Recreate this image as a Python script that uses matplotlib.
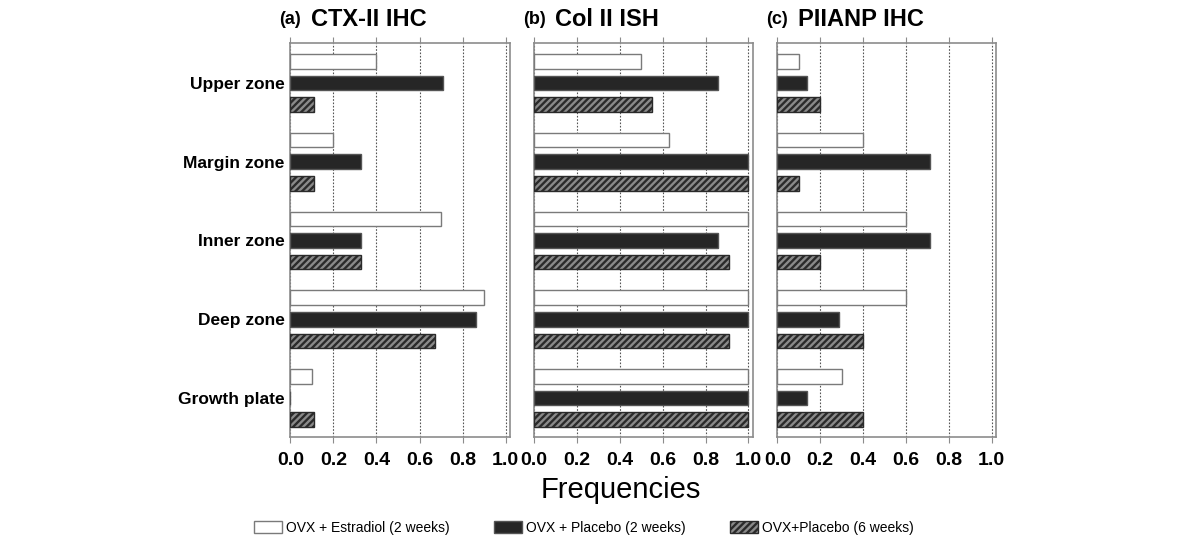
import matplotlib
matplotlib.use("Agg")
import matplotlib.pyplot as plt
import numpy as np
from matplotlib.patches import Patch

zones = ["Upper zone", "Margin zone", "Inner zone", "Deep zone", "Growth plate"]
series_names = ["OVX + Estradiol (2 weeks)", "OVX + Placebo (2 weeks)", "OVX+Placebo (6 weeks)"]

panel_tags = ["(a)", "(b)", "(c)"]
panel_titles = ["CTX-II IHC", "Col II ISH", "PIIANP IHC"]

ctx_estradiol = [0.40, 0.20, 0.70, 0.90, 0.10]
ctx_placebo2 = [0.71, 0.33, 0.33, 0.86, 0.0]
ctx_placebo6 = [0.11, 0.11, 0.33, 0.67, 0.11]

col_estradiol = [0.50, 0.63, 1.0, 1.0, 1.0]
col_placebo2 = [0.86, 1.0, 0.86, 1.0, 1.0]
col_placebo6 = [0.55, 1.0, 0.91, 0.91, 1.0]

piianp_estradiol = [0.10, 0.40, 0.60, 0.60, 0.30]
piianp_placebo2 = [0.14, 0.71, 0.71, 0.29, 0.14]
piianp_placebo6 = [0.20, 0.10, 0.20, 0.40, 0.40]

panels = [
    [ctx_estradiol, ctx_placebo2, ctx_placebo6],
    [col_estradiol, col_placebo2, col_placebo6],
    [piianp_estradiol, piianp_placebo2, piianp_placebo6],
]

plt.rcParams["font.family"] = ["Liberation Sans", "DejaVu Sans"]
plt.rcParams["hatch.linewidth"] = 1.7

styles = [
    dict(facecolor="white", edgecolor="#7a7a7a", hatch=None),
    dict(facecolor="#262626", edgecolor="#555555", hatch=None),
    dict(facecolor="#8a8a8a", edgecolor="#2a2a2a", hatch="/////"),
]
offsets = [-0.274, 0.0, 0.274]
bar_h = 0.185
spine_col = "#8c8c8c"

fig = plt.figure(figsize=(12, 5.44), dpi=100)
lefts = [290.3, 534.0, 777.3]
widths = [219.7, 218.7, 218.7]

y = np.arange(len(zones))
ticks = np.arange(0, 1.01, 0.2)
for k in range(3):
    ax = fig.add_axes([lefts[k] / 1200, 1 - 436.7 / 544, widths[k] / 1200, 394 / 544])
    for s in range(3):
        st = styles[s]
        ax.barh(y + offsets[s], panels[k][s], height=bar_h, facecolor=st["facecolor"],
                edgecolor=st["edgecolor"], hatch=st["hatch"], linewidth=1.0, zorder=3)
    ax.set_xlim(0, 1.02)
    ax.set_ylim(4.49, -0.51)
    ax.set_xticks(ticks)
    ax.set_xticklabels([f"{v:.1f}" for v in ticks], fontsize=14, fontweight="bold")
    ax.tick_params(axis="x", which="both", top=True, bottom=True, direction="out",
                   length=4, color=spine_col, pad=7)
    ax.xaxis.grid(True, linestyle=(0, (1.5, 1.5)), color="#555555", linewidth=0.8, zorder=0)
    ax.set_yticks(y)
    if k == 0:
        ax.set_yticklabels(zones, fontsize=12.5, fontweight="bold")
        ax.tick_params(axis="y", length=0, pad=4)
    else:
        ax.set_yticklabels([])
        ax.tick_params(axis="y", length=0)
    for sp in ax.spines.values():
        sp.set_color(spine_col)
        sp.set_linewidth(1.2)
    ax.set_axisbelow(True)
    x0 = (lefts[k] - 11) / 1200
    fig.text(x0, 1 - 19 / 544, panel_tags[k], fontsize=13, fontweight="bold",
             ha="left", va="center")
    fig.text(x0 + 32 / 1200, 1 - 19 / 544, panel_titles[k], fontsize=17,
             fontweight="bold", ha="left", va="center")

fig.text(621 / 1200, 1 - 490 / 544, "Frequencies", fontsize=21, ha="center", va="center")

handles = [Patch(facecolor=st["facecolor"], edgecolor=st["edgecolor"], hatch=st["hatch"])
           for st in styles]
fig.legend(handles, series_names, ncol=3, loc="center", frameon=False,
           bbox_to_anchor=(584 / 1200, 1 - 528 / 544), fontsize=10,
           handlelength=2.0, handleheight=0.9, handletextpad=0.3, columnspacing=3.2)

fig.savefig("out.png", dpi=100)
